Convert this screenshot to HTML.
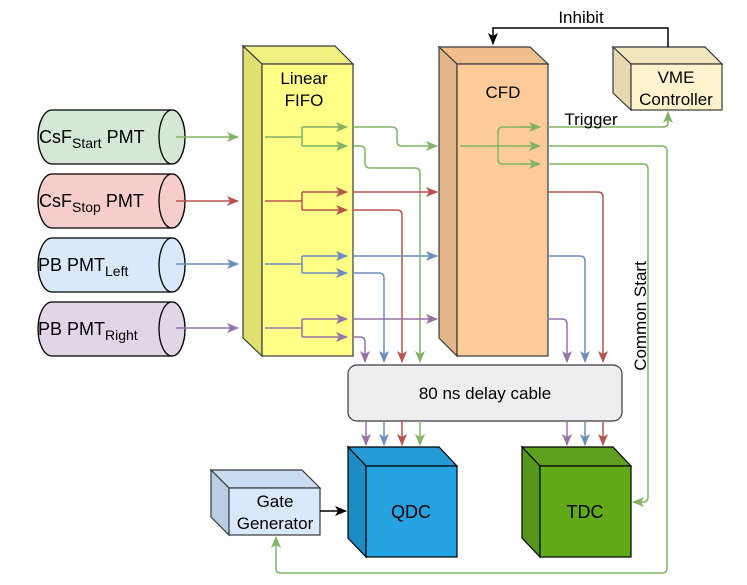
<!DOCTYPE html>
<html><head><meta charset="utf-8"><style>
html,body{margin:0;padding:0;background:#fff;}
svg{display:block;font-family:"Liberation Sans",Arial,sans-serif;}
</style></head><body>
<svg width="747" height="585" viewBox="0 0 747 585" xmlns="http://www.w3.org/2000/svg">
<defs>
<marker id="mg" markerWidth="12" markerHeight="12" refX="11" refY="6" orient="auto" markerUnits="userSpaceOnUse"><path d="M0,1 L12,6 L0,11 L3,6 Z" fill="#82b366"/></marker>
<marker id="mr" markerWidth="12" markerHeight="12" refX="11" refY="6" orient="auto" markerUnits="userSpaceOnUse"><path d="M0,1 L12,6 L0,11 L3,6 Z" fill="#b85450"/></marker>
<marker id="mb" markerWidth="12" markerHeight="12" refX="11" refY="6" orient="auto" markerUnits="userSpaceOnUse"><path d="M0,1 L12,6 L0,11 L3,6 Z" fill="#6c8ebf"/></marker>
<marker id="mp" markerWidth="12" markerHeight="12" refX="11" refY="6" orient="auto" markerUnits="userSpaceOnUse"><path d="M0,1 L12,6 L0,11 L3,6 Z" fill="#9673a6"/></marker>
<marker id="mk" markerWidth="12" markerHeight="12" refX="11" refY="6" orient="auto" markerUnits="userSpaceOnUse"><path d="M0,1 L12,6 L0,11 L3,6 Z" fill="#000"/></marker>
</defs>

<!-- Cylinders -->
<g stroke="#000" stroke-width="1.3">
<path d="M52,110 H172 A13,27 0 0 1 172,164 H52 A14,27 0 0 1 52,110 Z" fill="#d5e8d4"/>
<ellipse cx="172" cy="137" rx="13" ry="27" fill="#d5e8d4"/>
<path d="M52,174 H172 A13,27 0 0 1 172,228 H52 A14,27 0 0 1 52,174 Z" fill="#f8cecc"/>
<ellipse cx="172" cy="201" rx="13" ry="27" fill="#f8cecc"/>
<path d="M52,238 H172 A13,27 0 0 1 172,292 H52 A14,27 0 0 1 52,238 Z" fill="#dae8fc"/>
<ellipse cx="172" cy="265" rx="13" ry="27" fill="#dae8fc"/>
<path d="M52,302 H172 A13,27 0 0 1 172,356 H52 A14,27 0 0 1 52,302 Z" fill="#e1d5e7"/>
<ellipse cx="172" cy="329" rx="13" ry="27" fill="#e1d5e7"/>
</g>
<g font-size="18" fill="#000">
<text x="39" y="143">CsF<tspan font-size="14" dy="5">Start</tspan><tspan dy="-5"> PMT</tspan></text>
<text x="39" y="207">CsF<tspan font-size="14" dy="5">Stop</tspan><tspan dy="-5"> PMT</tspan></text>
<text x="38" y="271">PB PMT<tspan font-size="14" dy="5">Left</tspan></text>
<text x="38" y="335">PB PMT<tspan font-size="14" dy="5">Right</tspan></text>
</g>
<g stroke-width="1.5" fill="none">
<path d="M176,137 H238" stroke="#82b366" marker-end="url(#mg)"/>
<path d="M176,201 H238" stroke="#b85450" marker-end="url(#mr)"/>
<path d="M176,264 H238" stroke="#6c8ebf" marker-end="url(#mb)"/>
<path d="M176,328 H238" stroke="#9673a6" marker-end="url(#mp)"/>
</g>

<!-- Linear FIFO -->
<g stroke="#36393d" stroke-width="1.2">
<path d="M243,46 H335 L353,64 H262 Z" fill="#f0f080"/>
<path d="M243,46 L262,64 V356 L243,338 Z" fill="#e0e070"/>
<rect x="262" y="64" width="91" height="292" fill="#ffff88"/>
</g>
<text x="304" y="84" font-size="17" text-anchor="middle">Linear</text>
<text x="304" y="106" font-size="17" text-anchor="middle">FIFO</text>

<!-- CFD -->
<g stroke="#36393d" stroke-width="1.2">
<path d="M439,47 H530 L548,64 H457 Z" fill="#f0bd8c"/>
<path d="M439,47 L457,64 V356 L439,338 Z" fill="#e2b58a"/>
<rect x="457" y="64" width="91" height="292" fill="#ffcc99"/>
</g>
<text x="503" y="98" font-size="17" text-anchor="middle">CFD</text>

<!-- VME -->
<g stroke="#36393d" stroke-width="1.2">
<path d="M613,47 H705 L722,64 H631 Z" fill="#f3e6bd"/>
<path d="M613,47 L631,64 V110 L613,93 Z" fill="#e6d8b0"/>
<rect x="631" y="64" width="91" height="46" fill="#fff2cc"/>
</g>
<text x="676" y="83" font-size="17" text-anchor="middle">VME</text>
<text x="676" y="105" font-size="17" text-anchor="middle">Controller</text>
<path d="M668,47 V28 H493 V44" stroke="#000" stroke-width="1.5" fill="none" marker-end="url(#mk)"/>
<text x="581" y="23" font-size="17" text-anchor="middle">Inhibit</text>

<!-- FIFO internal splits -->
<g stroke-width="1.5" fill="none">
<path d="M265,137 H302 M302,127 V146" stroke="#82b366"/>
<path d="M302,127 H347" stroke="#82b366" marker-end="url(#mg)"/>
<path d="M302,146 H347" stroke="#82b366" marker-end="url(#mg)"/>
<path d="M265,201 H302 M302,192 V210" stroke="#b85450"/>
<path d="M302,192 H347" stroke="#b85450" marker-end="url(#mr)"/>
<path d="M302,210 H347" stroke="#b85450" marker-end="url(#mr)"/>
<path d="M265,264 H302 M302,256 V273" stroke="#6c8ebf"/>
<path d="M302,256 H347" stroke="#6c8ebf" marker-end="url(#mb)"/>
<path d="M302,273 H347" stroke="#6c8ebf" marker-end="url(#mb)"/>
<path d="M265,328 H302 M302,319 V337" stroke="#9673a6"/>
<path d="M302,319 H347" stroke="#9673a6" marker-end="url(#mp)"/>
<path d="M302,337 H347" stroke="#9673a6" marker-end="url(#mp)"/>
</g>

<!-- FIFO outputs -->
<g stroke-width="1.5" fill="none" stroke-linejoin="round">
<path d="M353,127 H392 Q397,127 397,132 V141 Q397,146 402,146 H437" stroke="#82b366" marker-end="url(#mg)"/>
<path d="M353,146 H360 Q365,146 365,151 V163 Q365,168 370,168 H415 Q420,168 420,173 V362" stroke="#82b366" marker-end="url(#mg)"/>
<path d="M353,192 H437" stroke="#b85450" marker-end="url(#mr)"/>
<path d="M353,210 H397 Q402,210 402,215 V362" stroke="#b85450" marker-end="url(#mr)"/>
<path d="M353,256 H437" stroke="#6c8ebf" marker-end="url(#mb)"/>
<path d="M353,273 H379 Q384,273 384,278 V362" stroke="#6c8ebf" marker-end="url(#mb)"/>
<path d="M353,319 H437" stroke="#9673a6" marker-end="url(#mp)"/>
<path d="M353,337 H360 Q365,337 365,342 V362" stroke="#9673a6" marker-end="url(#mp)"/>
</g>

<!-- CFD internal -->
<g stroke-width="1.5" fill="none" stroke="#82b366">
<path d="M460,146 H540" marker-end="url(#mg)"/>
<path d="M540,127 H503 Q498,127 498,132 V159 Q498,164 503,164 H540" />
<path d="M520,127 H540" marker-end="url(#mg)"/>
<path d="M520,164 H540" marker-end="url(#mg)"/>
</g>

<!-- CFD outputs -->
<g stroke-width="1.5" fill="none" stroke-linejoin="round">
<path d="M548,127 H663 Q668,127 668,122 V112" stroke="#82b366" marker-end="url(#mg)"/>
<path d="M548,146 H662 Q667,146 667,151 V568 Q667,573 662,573 H281 Q276,573 276,568 V537" stroke="#82b366" marker-end="url(#mg)"/>
<path d="M548,164 H643 Q648,164 648,169 V497 Q648,502 643,502 H633" stroke="#82b366" marker-end="url(#mg)"/>
<path d="M548,192 H598 Q603,192 603,197 V362" stroke="#b85450" marker-end="url(#mr)"/>
<path d="M548,256 H580 Q585,256 585,261 V362" stroke="#6c8ebf" marker-end="url(#mb)"/>
<path d="M548,319 H562 Q567,319 567,324 V362" stroke="#9673a6" marker-end="url(#mp)"/>
</g>
<text x="591" y="125" font-size="17" text-anchor="middle">Trigger</text>
<text transform="translate(646,316) rotate(-90)" font-size="17" text-anchor="middle">Common Start</text>

<!-- Delay cable -->
<rect x="348" y="365" width="274" height="56" rx="9" fill="#eeeeee" stroke="#36393d" stroke-width="1.2"/>
<text x="485" y="399" font-size="17" text-anchor="middle">80 ns delay cable</text>

<g stroke-width="1.5" fill="none">
<path d="M366,421 V445" stroke="#9673a6" marker-end="url(#mp)"/>
<path d="M384,421 V445" stroke="#6c8ebf" marker-end="url(#mb)"/>
<path d="M402,421 V445" stroke="#b85450" marker-end="url(#mr)"/>
<path d="M420,421 V445" stroke="#82b366" marker-end="url(#mg)"/>
<path d="M567,421 V445" stroke="#9673a6" marker-end="url(#mp)"/>
<path d="M585,421 V445" stroke="#6c8ebf" marker-end="url(#mb)"/>
<path d="M603,421 V445" stroke="#b85450" marker-end="url(#mr)"/>
</g>

<!-- QDC -->
<g stroke="#000" stroke-width="1.2">
<path d="M348,447 H439 L457,466 H366 Z" fill="#259bd6"/>
<path d="M348,447 L366,466 V557 L348,538 Z" fill="#1e8cc4"/>
<rect x="366" y="466" width="91" height="91" fill="#25a3e0"/>
</g>
<text x="411" y="518" font-size="18" text-anchor="middle">QDC</text>

<!-- TDC -->
<g stroke="#000" stroke-width="1.2">
<path d="M522,447 H613 L631,466 H540 Z" fill="#5e9f1f"/>
<path d="M522,447 L540,466 V557 L522,538 Z" fill="#56961c"/>
<rect x="540" y="466" width="91" height="91" fill="#60a917"/>
</g>
<text x="585" y="518" font-size="18" text-anchor="middle">TDC</text>

<!-- Gate Generator -->
<g stroke="#36393d" stroke-width="1.2">
<path d="M211,470 H302 L320,488 H229 Z" fill="#c8dcf2"/>
<path d="M211,470 L229,488 V535 L211,517 Z" fill="#b9cde5"/>
<rect x="229" y="488" width="91" height="47" fill="#dae8fc"/>
</g>
<text x="275" y="507" font-size="17" text-anchor="middle">Gate</text>
<text x="275" y="529" font-size="17" text-anchor="middle">Generator</text>
<path d="M320,511 H346" stroke="#000" stroke-width="1.5" fill="none" marker-end="url(#mk)"/>
</svg>
</body></html>
